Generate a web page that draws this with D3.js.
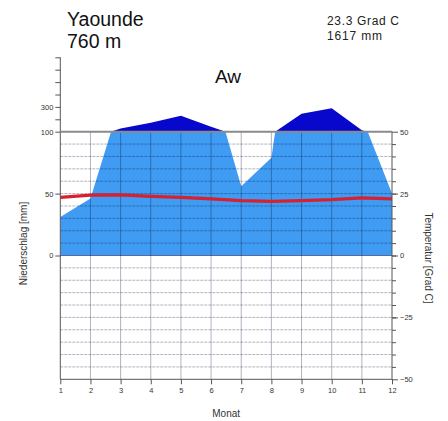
<!DOCTYPE html>
<html>
<head>
<meta charset="utf-8">
<script src="https://cdnjs.cloudflare.com/ajax/libs/d3/7.8.5/d3.min.js"></script>
<style>
  body { margin: 0; background: #fff; }
  svg { display: block; font-family: "Liberation Sans", Arial, sans-serif; }
</style>
</head>
<body>
<script>
// monthly values
const months = [1, 2, 3, 4, 5, 6, 7, 8, 9, 10, 11, 12];
const precip = [31, 46, 125, 172, 229, 140, 56, 79, 245, 289, 112, 50];   // mm
const temp = [23.5, 24.4, 24.5, 23.9, 23.5, 22.9, 22.2, 21.9, 22.2, 22.6, 23.3, 22.9]; // Grad C
const precipTicksLow = [0, 50, 100];
const precipTicksHigh = [200, 300, 400, 500, 600, 700];
const precipLabelsHigh = [300];
const tempTicks = [-50, -25, 0, 25, 50];
const tempMinor = d3.range(-45, 50, 5);

const W = 448, H = 421;

const svg = d3.select("body").append("svg")
  .attr("width", W)
  .attr("height", H);

const x = d3.scaleLinear().domain([1, 12]).range([60.3, 392]);
const yP = d3.scaleLinear().domain([0, 100]).range([255.5, 131.7]);
const yPhi = d3.scaleLinear().domain([100, 700]).range([131.7, 57.3]);
const yT = d3.scaleLinear().domain([-50, 50]).range([379.3, 131.7]);

const defs = svg.append("defs");
defs.append("clipPath").attr("id", "low")
  .append("rect")
  .attr("x", x(1)).attr("width", x(12) - x(1))
  .attr("y", yP(100)).attr("height", yP(0) - yP(100));
defs.append("clipPath").attr("id", "high")
  .append("rect")
  .attr("x", x(1)).attr("width", x(12) - x(1))
  .attr("y", yPhi(700)).attr("height", yPhi(100) - yPhi(700));

// precipitation up to 100 mm
svg.append("path")
  .datum(precip)
  .attr("clip-path", "url(#low)")
  .attr("fill", "#3f9cf2")
  .attr("d", d3.area()
    .x((d, i) => x(months[i]))
    .y0(yP(0))
    .y1(d => yP(d)));

// precipitation above 100 mm, compressed scale
svg.append("path")
  .datum(precip)
  .attr("clip-path", "url(#high)")
  .attr("fill", "#0808cc")
  .attr("d", d3.area()
    .x((d, i) => x(months[i]))
    .y0(yPhi(100))
    .y1(d => yPhi(d)));

// grid
const grid = svg.append("g");
grid.selectAll(".hg")
  .data(tempMinor)
  .enter().append("line")
  .attr("x1", x(1)).attr("x2", x(12))
  .attr("y1", d => yT(d)).attr("y2", d => yT(d))
  .attr("stroke", d => d === 0 ? "rgba(0,0,90,0.55)" : "rgba(0,0,50,0.3)")
  .attr("stroke-width", 1)
  .attr("stroke-dasharray", d => d === 0 ? null : "3,1");
grid.selectAll(".vg")
  .data(months.slice(1, -1))
  .enter().append("line")
  .attr("x1", d => x(d)).attr("x2", d => x(d))
  .attr("y1", yT(50)).attr("y2", yT(-50))
  .attr("stroke", "rgba(0,0,50,0.3)")
  .attr("stroke-width", 1);

// temperature
svg.append("path")
  .datum(temp)
  .attr("fill", "none")
  .attr("stroke", "#d9202e")
  .attr("stroke-width", 3.2)
  .attr("d", d3.line()
    .x((d, i) => x(months[i]))
    .y(d => yT(d)));

// axes
const axisCol = "#555";
function styleAxis(g) {
  g.select(".domain").remove();
  g.selectAll(".tick line").attr("stroke", axisCol);
  g.selectAll(".tick text")
    .attr("fill", "#333")
    .style("font-size", "7.5px")
    .style("font-family", "Liberation Sans, Arial, sans-serif");
}

svg.append("line")
  .attr("x1", x(1)).attr("x2", x(1))
  .attr("y1", yPhi(700)).attr("y2", yT(-50))
  .attr("stroke", axisCol);
svg.append("line")
  .attr("x1", x(12)).attr("x2", x(12))
  .attr("y1", yT(50)).attr("y2", yT(-50))
  .attr("stroke", axisCol);
svg.append("line")
  .attr("x1", x(1)).attr("x2", x(12))
  .attr("y1", yT(-50)).attr("y2", yT(-50))
  .attr("stroke", axisCol);

svg.append("g")
  .attr("transform", `translate(${x(1)},0)`)
  .call(d3.axisLeft(yP).tickValues(precipTicksLow).tickSize(5).tickPadding(2))
  .call(styleAxis);
svg.append("g")
  .attr("transform", `translate(${x(1)},0)`)
  .call(d3.axisLeft(yPhi).tickValues(precipTicksHigh).tickSize(5).tickPadding(2)
    .tickFormat(d => precipLabelsHigh.includes(d) ? d : ""))
  .call(styleAxis);

svg.append("g")
  .attr("transform", `translate(${x(12)},0)`)
  .call(d3.axisRight(yT).tickValues(tempMinor).tickSize(4).tickFormat(""))
  .call(styleAxis);
svg.append("g")
  .attr("transform", `translate(${x(12)},0)`)
  .call(d3.axisRight(yT).tickValues(tempTicks).tickSize(6).tickPadding(2))
  .call(styleAxis);

svg.append("g")
  .attr("transform", `translate(0,${yT(-50)})`)
  .call(d3.axisBottom(x).tickValues(months).tickFormat(d3.format("d")).tickSize(5).tickPadding(3))
  .call(styleAxis);

// 100 mm line
svg.append("line")
  .attr("x1", x(1)).attr("x2", x(12))
  .attr("y1", yP(100)).attr("y2", yP(100))
  .attr("stroke", "#8a8a8a")
  .attr("stroke-width", 2);

// texts
svg.append("text").attr("x", 67).attr("y", 25.5)
  .style("font-size", "19.5px").attr("fill", "#111").text("Yaounde");
svg.append("text").attr("x", 67).attr("y", 47.5)
  .style("font-size", "19.5px").attr("fill", "#111").text("760 m");
svg.append("text").attr("x", 327).attr("y", 24.5)
  .style("font-size", "12px").attr("textLength", 72).attr("fill", "#222").text("23.3 Grad C");
svg.append("text").attr("x", 327).attr("y", 39.5)
  .style("font-size", "12px").attr("textLength", 55).attr("fill", "#222").text("1617 mm");
svg.append("text").attr("x", 215).attr("y", 82.5)
  .style("font-size", "19px").attr("fill", "#111").text("Aw");

svg.append("text")
  .attr("transform", `translate(27,${yP(0) - 12}) rotate(-90)`)
  .attr("text-anchor", "middle")
  .style("font-size", "10px").attr("fill", "#333")
  .text("Niederschlag [mm]");
svg.append("text")
  .attr("transform", `translate(425,${yT(-1)}) rotate(90)`)
  .attr("text-anchor", "middle")
  .style("font-size", "10px").attr("fill", "#333")
  .text("Temperatur [Grad C]");
svg.append("text")
  .attr("x", (x(1) + x(12)) / 2).attr("y", 417)
  .attr("text-anchor", "middle")
  .style("font-size", "10px").attr("fill", "#333")
  .text("Monat");
</script>
</body>
</html>
